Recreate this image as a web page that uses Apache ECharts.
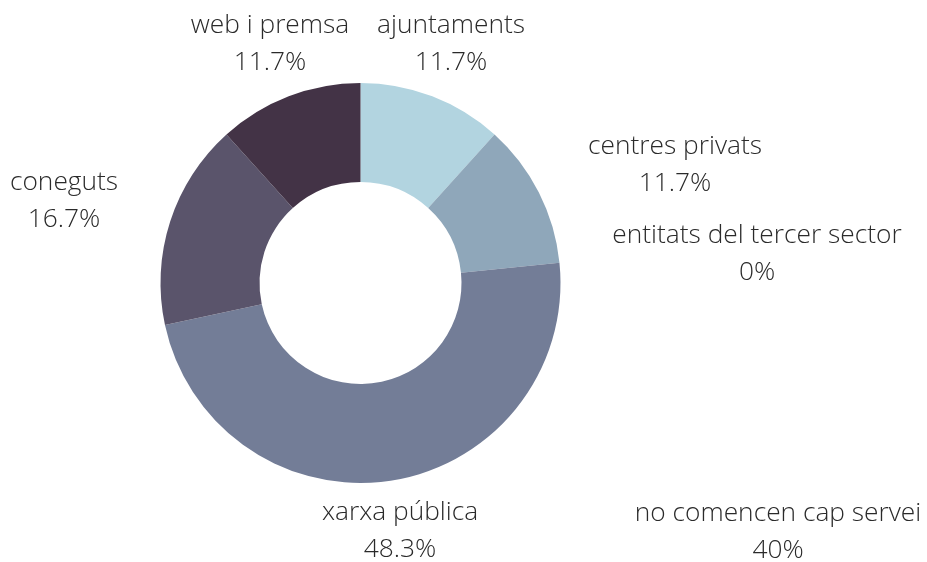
<!DOCTYPE html>
<html>
<head>
<meta charset="utf-8">
<script src="https://cdn.jsdelivr.net/npm/echarts@6/dist/echarts.min.js"></script>
<style>
html,body{margin:0;padding:0;background:#fff;}
#chart{width:927px;height:562px;}
</style>
</head>
<body>
<div id="chart"></div>
<script>
// ---- data ----
const categories = ['ajuntaments', 'centres privats', 'entitats del tercer sector', 'xarxa pública', 'coneguts', 'web i premsa', 'no comencen cap servei'];
const values = [11.7, 11.7, 0, 48.3, 16.7, 11.7, 0];
const pctLabels = ['11.7%', '11.7%', '0%', '48.3%', '16.7%', '11.7%', '40%'];
const colors = ['#b2d4e0', '#8fa7ba', '#a0a8b8', '#737d97', '#5a546b', '#433346', '#cccccc'];

// ---- layout (label block centres, px) ----
const labelCentres = [[451, 44], [675, 165], [757, 254], [400, 531], [64, 201], [270, 44], [778, 532]];

const chart = echarts.init(document.getElementById('chart'), null, {renderer: 'canvas'});
chart.setOption({
  animation: false,
  backgroundColor: '#ffffff',
  series: [{
    type: 'pie',
    center: [360.5, 283],
    radius: [101, 200],
    startAngle: 90,
    clockwise: true,
    avoidLabelOverlap: false,
    silent: true,
    data: categories.map((c, i) => ({name: c, value: values[i], itemStyle: {color: colors[i]}})),
    label: {
      show: true,
      position: 'outside',
      formatter: p => '{t|' + p.name + '}\n{t|' + pctLabels[p.dataIndex] + '}',
      rich: {
        t: {align: 'center', fontFamily: 'Open Sans', fontWeight: 300, fontSize: 26.3, lineHeight: 37, color: '#2a2a2a'}
      }
    },
    labelLine: {show: false},
    labelLayout: p => ({
      x: labelCentres[p.dataIndex][0],
      y: labelCentres[p.dataIndex][1],
      align: 'center',
      verticalAlign: 'middle'
    })
  }]
});
</script>
</body>
</html>
